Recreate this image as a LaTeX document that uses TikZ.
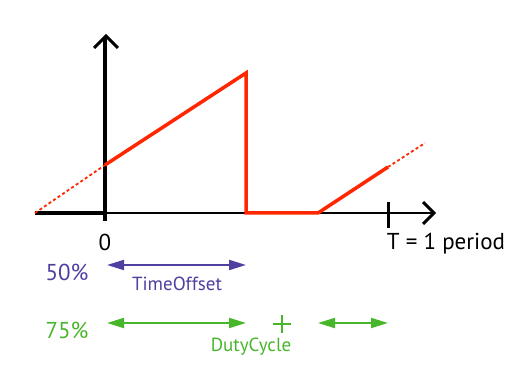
\documentclass[tikz,border=0pt]{standalone}
\usepackage{fontspec}
\setmainfont{PT Sans}
\usetikzlibrary{arrows.meta}
\definecolor{sigred}{RGB}{255,38,0}
\definecolor{offpurple}{RGB}{80,62,160}
\definecolor{dutygreen}{RGB}{72,182,42}
\tikzset{
  axisline/.style={black, line width=2pt},
  chevron/.style={black, line width=3pt, line cap=butt, line join=miter},
  sig/.style={sigred, line width=3.5pt, line join=miter},
  sigdash/.style={sigred, line width=1.8pt, dash pattern=on 3pt off 2.5pt},
  span/.style={line width=2pt, {Triangle[length=17pt,width=10pt]}-{Triangle[length=17pt,width=10pt]}},
  lbl/.style={inner sep=0pt, font=\fontsize{23}{26}\selectfont},
  small/.style={inner sep=0pt, font=\fontsize{19}{22}\selectfont}
}
\begin{document}
\begin{tikzpicture}[x=1pt,y=-1pt]
\useasboundingbox (0,0) rectangle (531,390);
% coordinates
\coordinate (xl) at (35,213);
\coordinate (o) at (105,213);
\coordinate (xr) at (433,213);
\coordinate (yb) at (105,221);
\coordinate (yt) at (105,37);
\coordinate (p0) at (105,165);
\coordinate (p1) at (246,73);
\coordinate (p2) at (246,213);
\coordinate (p3) at (318,213);
\coordinate (p4) at (388,167);
\coordinate (p5) at (425,143);
\coordinate (tk1) at (388,202);
\coordinate (tk2) at (388,228);
% axes
\draw[black, line width=3.5pt] (xl) -- (o);
\draw[axisline] (o) -- (xr);
\draw[black, line width=3.5pt] (yb) -- (yt);
\draw[chevron] (94,48) -- (106,36) -- (118,48);
\draw[chevron] (423,202) -- (434,213) -- (423,224);
\draw[black, line width=3pt] (tk1) -- (tk2);
% signal
\draw[sigdash] (xl) -- (p0);
\draw[sig] (p0) -- (p1) -- (p2) -- (p3) -- (p4);
\draw[sigdash] (p4) -- (p5);
% labels
\node[lbl] (zero) at (105,242) {0};
\node[lbl] (period) at (446,244) {T = 1 period};
\node[lbl, text=offpurple] (p50) at (67,272) {50\%};
\node[lbl, text=dutygreen] (p75) at (67,330) {75\%};
\coordinate (a1) at (107,265);
\coordinate (a2) at (246,265);
\draw[span, offpurple] (a1) -- (a2);
\node[small, text=offpurple] (toff) at (177,284) {TimeOffset};
\coordinate (b1) at (107,323);
\coordinate (b2) at (246,323);
\coordinate (b3) at (318,323);
\coordinate (b4) at (388,323);
\draw[span, dutygreen] (b1) -- (b2);
\draw[span, dutygreen] (b3) -- (b4);
\draw[dutygreen, line width=2pt] (282,315) -- (282,333) (273,324) -- (291,324);
\node[small, text=dutygreen] (duty) at (251,347) {DutyCycle};
\end{tikzpicture}
\end{document}
